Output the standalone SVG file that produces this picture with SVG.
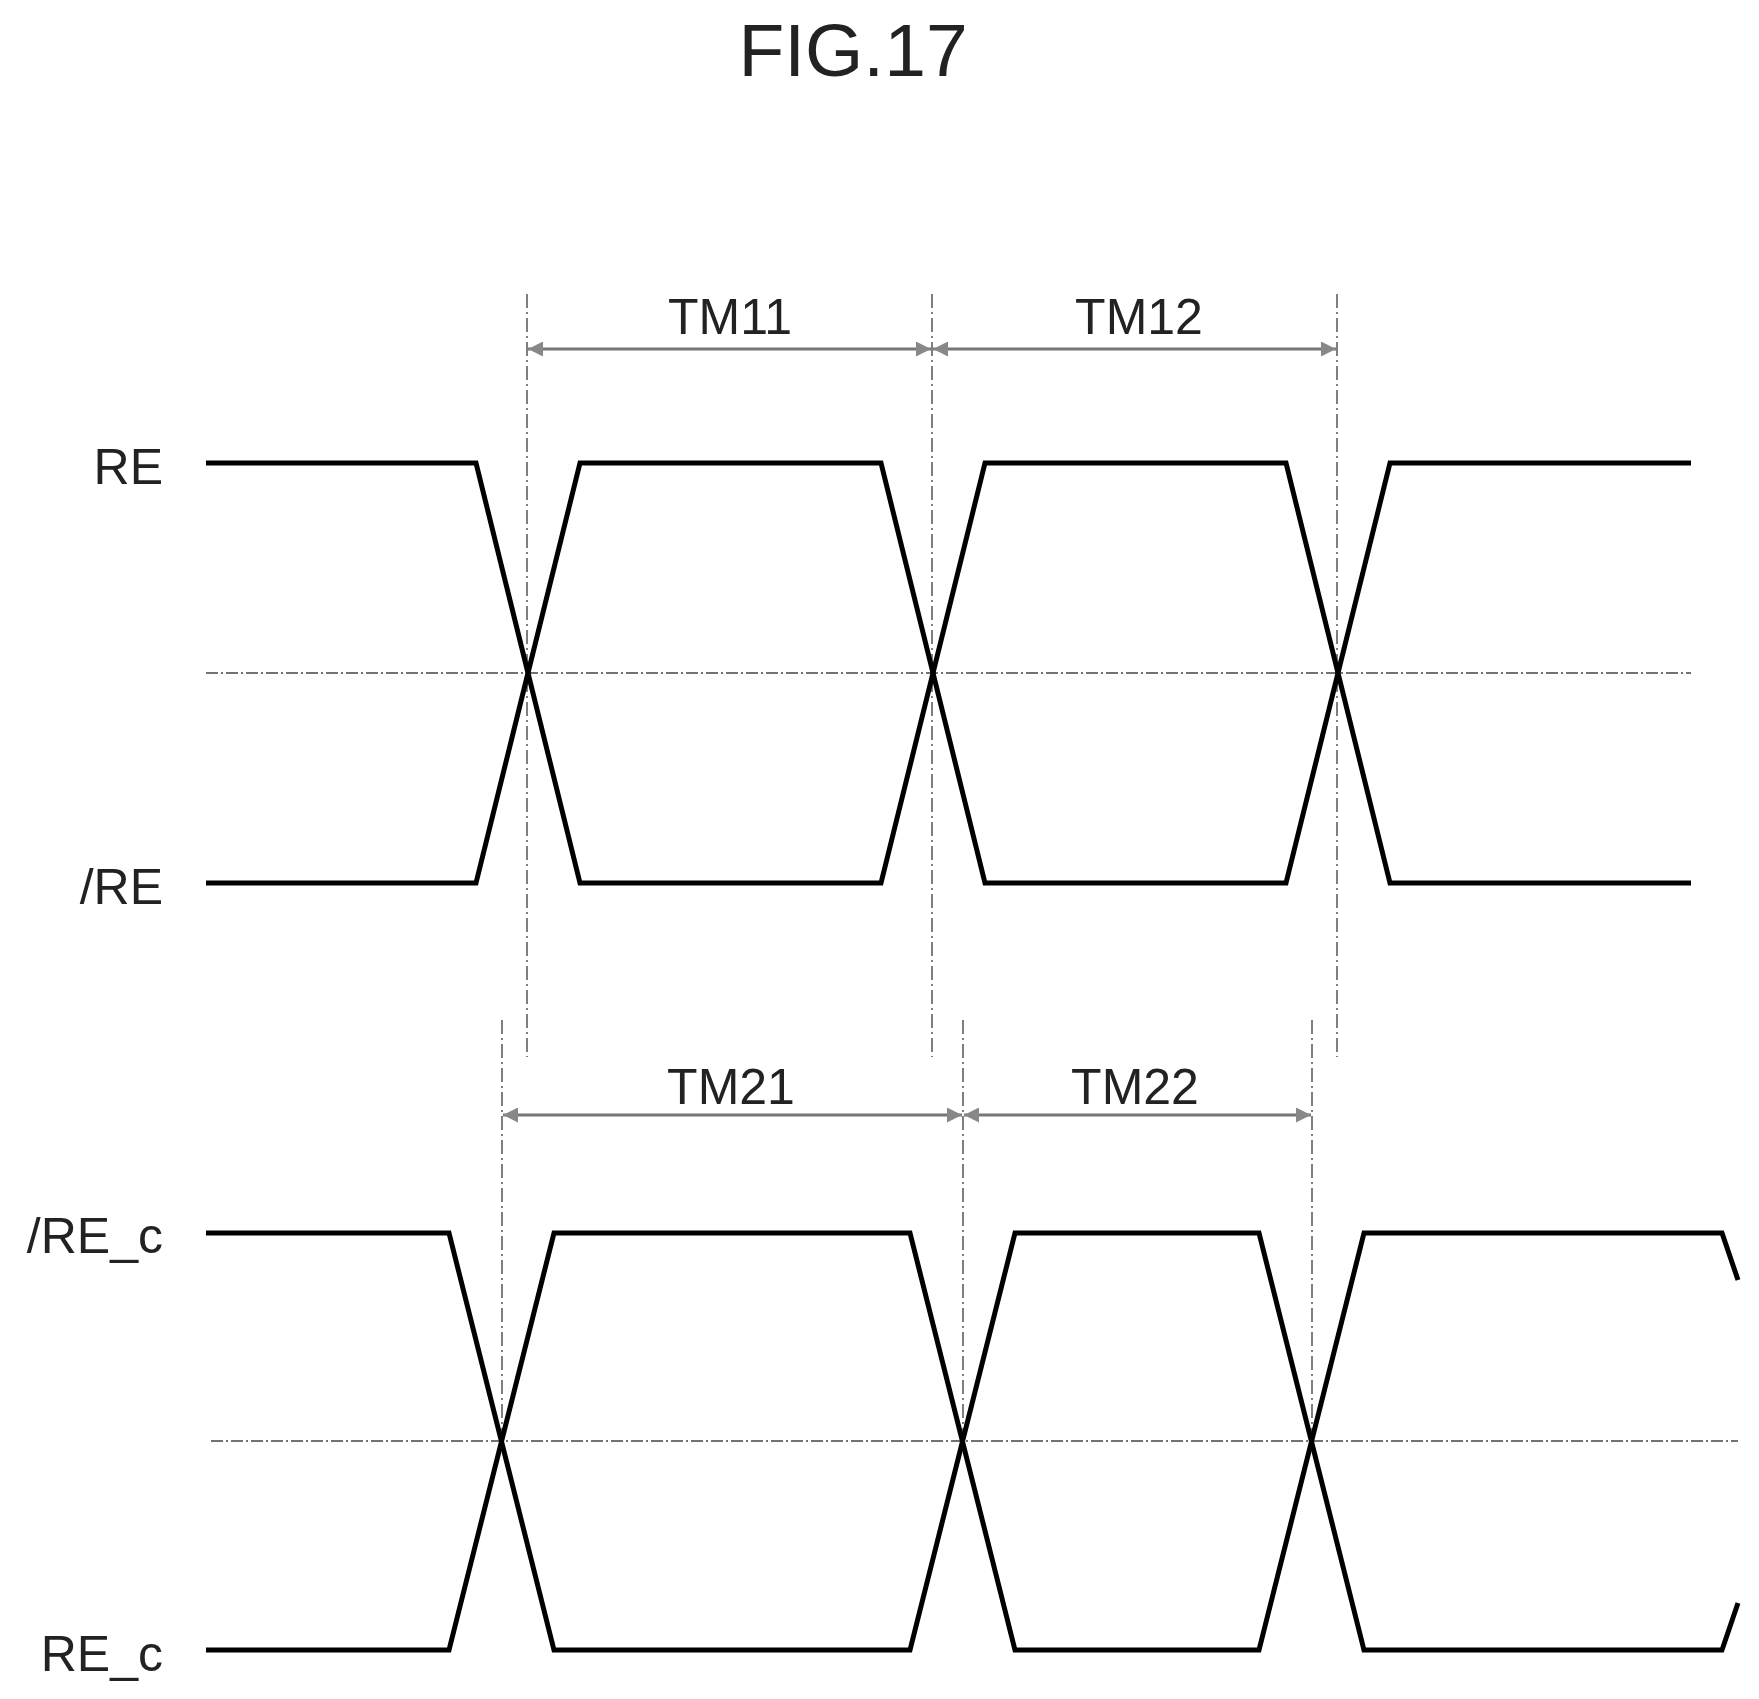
<svg xmlns="http://www.w3.org/2000/svg" width="1759" height="1699" viewBox="0 0 1759 1699">
<style>
text{font-family:"Liberation Sans",Arial,sans-serif;fill:#222}
.lbl{font-size:50px;text-anchor:end}
.tm{font-size:50px;text-anchor:middle}
.sig{fill:none;stroke:#000;stroke-width:5;stroke-linejoin:miter}
.vd{stroke:#555;stroke-width:1.5;stroke-dasharray:14 4 2 4}
.mid{stroke:#444;stroke-width:1.5;stroke-dasharray:12 3 2 3}
.dim{stroke:#777;stroke-width:3;marker-start:url(#a);marker-end:url(#a)}
</style>
<defs>
<marker id="a" viewBox="0 0 10 10" refX="10" refY="5" markerWidth="7" markerHeight="5" orient="auto-start-reverse" markerUnits="strokeWidth"><path d="M0,0L10,5L0,10z" fill="#888"/></marker>
</defs>
<rect width="1759" height="1699" fill="#fff"/>
<text x="853" y="76" font-size="75" text-anchor="middle">FIG.17</text>
<g id="connectors">
<line class="vd" x1="527" y1="294" x2="527" y2="1057"/>
<line class="vd" x1="932" y1="294" x2="932" y2="1057"/>
<line class="vd" x1="1337" y1="294" x2="1337" y2="1057"/>
<line class="vd" x1="502" y1="1020" x2="502" y2="1441"/>
<line class="vd" x1="963" y1="1020" x2="963" y2="1441"/>
<line class="vd" x1="1312" y1="1020" x2="1312" y2="1441"/>
<line class="mid" x1="206" y1="673" x2="1691" y2="673"/>
<line class="mid" x1="211" y1="1441" x2="1738" y2="1441"/>
<line class="dim" x1="528" y1="349" x2="931" y2="349"/>
<line class="dim" x1="933" y1="349" x2="1336" y2="349"/>
<line class="dim" x1="503" y1="1115" x2="962" y2="1115"/>
<line class="dim" x1="964" y1="1115" x2="1311" y2="1115"/>
</g>
<g id="labels">
<text class="tm" x="730" y="334">TM11</text>
<text class="tm" x="1139" y="334">TM12</text>
<text class="tm" x="731" y="1104">TM21</text>
<text class="tm" x="1135" y="1104">TM22</text>
</g>
<g id="RE">
<text class="lbl" x="163" y="484">RE</text>
<polyline class="sig" points="206,463 476,463 580,883 881,883 985,463 1286,463 1390,883 1691,883"/>
</g>
<g id="nRE">
<text class="lbl" x="163" y="904">/RE</text>
<polyline class="sig" points="206,883 476,883 580,463 881,463 985,883 1286,883 1390,463 1691,463"/>
</g>
<g id="nREc">
<text class="lbl" x="163" y="1253">/RE_c</text>
<polyline class="sig" points="206,1233 449,1233 554,1650 910,1650 1015,1233 1259,1233 1364,1650 1722,1650 1738,1603"/>
</g>
<g id="REc">
<text class="lbl" x="163" y="1671">RE_c</text>
<polyline class="sig" points="206,1650 449,1650 554,1233 910,1233 1015,1650 1259,1650 1364,1233 1722,1233 1738,1280"/>
</g>
</svg>
